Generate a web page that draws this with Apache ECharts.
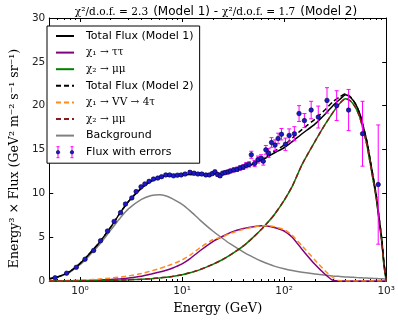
<!DOCTYPE html>
<html><head><meta charset="utf-8">
<script src="https://cdn.jsdelivr.net/npm/echarts@6/dist/echarts.min.js"></script>
<style>html,body{margin:0;padding:0;background:#fff}#c{width:398px;height:320px}</style>
</head><body><div id="c"></div>
<script>
// ---- data ----
const energy = [0.5,0.6,0.7,0.8,1,1.2,1.5,2,2.5,3,4,5,6,7,8,10,12,15,20,25,30,40,50,60,70,80,100,120,150,200,250,300,350,400,450,500,550,600,650,700,750,800,850,900,950,1000];
const totalModel1 = [0.25,0.45,0.75,1.1,2.0,2.95,4.2,6.15,7.85,9.1,10.6,11.4,11.8,12.0,12.05,12.1,12.15,12.15,12.2,12.3,12.45,12.9,13.35,13.8,14.2,14.6,15.2,15.9,16.8,17.9,19.0,20.0,20.7,21.25,20.9,20.2,19.1,17.5,15.8,13.65,11.65,9.7,7.3,5.0,2.05,0.2];
const chi1TauTau = [0.01,0.015,0.02,0.03,0.05,0.07,0.11,0.18,0.26,0.35,0.55,0.8,1.02,1.22,1.45,1.95,2.55,3.45,4.5,5.1,5.55,6.0,6.2,6.3,6.25,6.1,5.7,5.0,3.6,1.9,0.8,0.08,0,0,0,0,0,0,0,0,0,0,0,0,0,0];
const chi2MuMu = [0,0.003,0.005,0.008,0.015,0.025,0.04,0.07,0.1,0.13,0.2,0.27,0.35,0.43,0.52,0.72,0.95,1.3,1.9,2.45,3.0,4.0,5.0,5.9,6.75,7.55,9.2,10.8,13.3,15.9,17.8,19.2,20.25,20.8,20.5,19.8,18.7,17.1,15.4,13.3,11.3,9.4,7.0,4.7,1.8,0];
const totalModel2 = [0.25,0.45,0.75,1.1,2.0,2.95,4.2,6.15,7.85,9.1,10.6,11.4,11.8,12.0,12.05,12.1,12.15,12.2,12.25,12.35,12.5,12.95,13.45,13.9,14.35,14.8,15.5,16.3,17.3,18.45,19.5,20.45,21.0,21.35,20.95,20.2,19.1,17.5,15.8,13.65,11.65,9.7,7.3,5.0,2.05,0.2];
const chi1VV4Tau = [0.02,0.03,0.04,0.06,0.1,0.14,0.21,0.33,0.45,0.58,0.85,1.15,1.42,1.68,1.92,2.4,2.95,3.8,4.7,5.05,5.45,5.9,6.15,6.3,6.3,6.2,5.85,5.2,4.0,2.4,1.2,0.4,0.02,0,0,0,0,0,0,0,0,0,0,0,0,0];
const chi2MuMuModel2 = [0,0.003,0.005,0.008,0.015,0.025,0.04,0.07,0.1,0.13,0.2,0.27,0.35,0.43,0.52,0.72,0.95,1.3,1.9,2.45,3.0,4.0,5.0,5.9,6.75,7.55,9.2,10.8,13.3,15.9,17.8,19.2,20.25,20.8,20.5,19.8,18.7,17.1,15.4,13.3,11.3,9.4,7.0,4.7,1.8,0];
const background = [0.22,0.42,0.7,1.02,1.85,2.75,3.95,5.8,7.25,8.25,9.3,9.75,9.85,9.7,9.4,8.75,8.0,6.95,5.7,4.85,4.2,3.3,2.7,2.25,1.95,1.7,1.4,1.2,1.0,0.8,0.68,0.58,0.52,0.47,0.43,0.4,0.37,0.35,0.33,0.31,0.29,0.28,0.27,0.25,0.24,0.23];

const pointEnergy = [0.57,0.74,0.92,1.12,1.36,1.59,1.86,2.16,2.5,2.79,3.22,3.55,3.96,4.32,4.75,5.25,5.78,6.3,6.93,7.56,8.25,9.0,9.8,10.7,11.95,13.1,14.3,15.6,17.1,18.5,19.8,21.0,22.3,23.6,25.0,26.5,28.2,29.8,32.1,34.6,37.1,39.8,42.5,45.4,47.7,51.4,55.4,59.4,62.5,66.2,70.4,75.2,81.5,87.3,94.2,103,112,126,140,158,184,216,263,327,428,586,835];
const pointFlux = [0.37,0.89,1.56,2.48,3.48,4.6,5.7,6.8,7.8,8.78,9.48,10.2,10.74,11.07,11.37,11.63,11.74,11.9,12.1,12.1,12.0,12.07,12.1,12.2,12.4,12.3,12.2,12.2,12.1,12.1,12.25,12.45,12.15,12.0,12.3,12.37,12.44,12.55,12.67,12.74,12.9,13.0,13.2,13.3,14.4,13.4,13.85,14.0,13.67,14.96,14.6,15.8,15.5,16.26,16.74,15.6,16.6,16.8,19.1,18.3,19.5,18.7,20.6,20.0,19.5,16.8,11.0];
const pointError = [0.03,0.04,0.05,0.06,0.07,0.08,0.09,0.1,0.1,0.1,0.1,0.1,0.1,0.1,0.1,0.1,0.1,0.12,0.12,0.12,0.12,0.12,0.13,0.13,0.15,0.15,0.15,0.15,0.16,0.17,0.18,0.18,0.2,0.2,0.2,0.2,0.22,0.22,0.24,0.25,0.26,0.28,0.3,0.3,0.4,0.35,0.4,0.4,0.45,0.5,0.5,0.55,0.6,0.6,0.65,0.7,0.75,0.8,0.9,0.8,1.0,1.25,1.45,1.7,2.35,3.7,6.8];

const xMajorTicks = [1,10,100,1000];
const xTickLabels = ['10⁰','10¹','10²','10³'];
const xMinorTicks = [0.6,0.7,0.8,0.9,2,3,4,5,6,7,8,9,20,30,40,50,60,70,80,90,200,300,400,500,600,700,800,900];
const yMin = 0, yMax = 30, yStep = 5;

const legendNames = ['Total Flux (Model 1)','χ₁ → ττ','χ₂ → μμ','Total Flux (Model 2)','χ₁ → VV → 4τ','χ₂ → μμ ','Background','Flux with errors'];
const titleText = '{m|χ²/d.o.f. = 2.3} {s|(Model 1) - }{m|χ²/d.o.f. = 1.7} {s|(Model 2)}';
const xName = 'Energy (GeV)';
const yName = 'Energy³ × Flux (GeV² m⁻² s⁻¹ sr⁻¹)';

// ---- chart ----
const pairs = arr => energy.map((e,i)=>[e,arr[i]]);
const X0 = 0.5, X1 = 1000;
const chart = echarts.init(document.getElementById('c'), null, {renderer:'canvas'});

function lineSeries(name, arr, color, dashed, z){
  return {type:'line', name, data:pairs(arr), symbol:'none', smooth:0.2, z:z||2,
    lineStyle:{color, width:1.5, type: dashed ? [5,3] : 'solid'}, itemStyle:{color}, animation:false};
}
const svgIcon = '<svg xmlns="http://www.w3.org/2000/svg" width="18" height="14" viewBox="0 0 18 14">'+
 '<path d="M2 1.5v11M0.5 1.5h3M0.5 12.5h3M16 1.5v11M14.5 1.5h3M14.5 12.5h3" stroke="#ff00ff" stroke-width="1" fill="none"/>'+
 '<circle cx="2" cy="7" r="1.8" fill="#1a1acc" stroke="#000033" stroke-width="0.5"/>'+
 '<circle cx="16" cy="7" r="1.8" fill="#1a1acc" stroke="#000033" stroke-width="0.5"/></svg>';

const xCommon = {type:'log', logBase:10, min:X0, max:X1, splitLine:{show:false}, gridIndex:0};
const richLeg = {m:{fontFamily:'DejaVu Serif', fontSize:10.5, color:'#000', lineHeight:14}, s:{fontFamily:'DejaVu Sans', fontSize:11, color:'#000', lineHeight:14}};
const option = {
  animation:false,
  backgroundColor:'#fff',
  title:{text:titleText, left:216, top:3, textAlign:'center', padding:0,
    textStyle:{fontWeight:'normal', rich:{m:{fontFamily:'DejaVu Serif', fontSize:10.6, fontWeight:'normal', color:'#000'}, s:{fontFamily:'DejaVu Sans', fontSize:12, fontWeight:'normal', color:'#000'}}}},
  grid:{left:43, right:7, top:18, bottom:32, containLabel:false},
  legend:{orient:'vertical', left:47, top:26, selectedMode:false,
    backgroundColor:'#fff', borderColor:'#000', borderWidth:1, borderRadius:0,
    padding:[3,6,4,8], itemWidth:18, itemHeight:14, itemGap:2.6,
    data: legendNames.map((n,i)=> i===7 ? {name:n, icon:'image://data:image/svg+xml;charset=utf-8,'+encodeURIComponent(svgIcon)} : {name:n, itemStyle:{opacity:0}}),
    formatter: n => n.startsWith('χ') ? '{m|'+n.trim()+'}' : '{s|'+n+'}',
    textStyle:{padding:[0,0,0,7], lineHeight:14, rich:richLeg}},
  xAxis:[
    Object.assign({}, xCommon, {position:'bottom', name:xName, nameLocation:'middle', nameGap:21,
      nameTextStyle:{fontFamily:'DejaVu Serif', fontSize:13, color:'#000'},
      axisLine:{show:true, lineStyle:{color:'#000', width:1}},
      axisTick:{show:true, inside:true, length:4, customValues:xMajorTicks, lineStyle:{color:'#000'}},
      axisLabel:{show:true, customValues:xMajorTicks, margin:5, fontFamily:'DejaVu Sans', fontSize:10.5, color:'#222',
        formatter: v => xTickLabels[xMajorTicks.indexOf(Math.pow(10, Math.round(Math.log10(v))))]}}),
    Object.assign({}, xCommon, {position:'bottom', axisLine:{show:false},
      axisTick:{show:true, inside:true, length:2, customValues:xMinorTicks, lineStyle:{color:'#000'}}, axisLabel:{show:false}}),
    Object.assign({}, xCommon, {position:'top', axisLine:{show:true, lineStyle:{color:'#000', width:1}},
      axisTick:{show:true, inside:true, length:4, customValues:xMajorTicks, lineStyle:{color:'#000'}}, axisLabel:{show:false}}),
    Object.assign({}, xCommon, {position:'top', axisLine:{show:false},
      axisTick:{show:true, inside:true, length:2, customValues:xMinorTicks, lineStyle:{color:'#000'}}, axisLabel:{show:false}})
  ],
  yAxis:[
    {type:'value', min:yMin, max:yMax, interval:yStep, position:'left', splitLine:{show:false},
      name:yName, nameLocation:'middle', nameGap:27,
      nameTextStyle:{fontFamily:'DejaVu Serif', fontSize:12.5, color:'#000', padding:[0,18,0,0]},
      axisLine:{show:true, lineStyle:{color:'#000', width:1}},
      axisTick:{show:true, inside:true, length:4, lineStyle:{color:'#000'}},
      axisLabel:{margin:4, fontFamily:'DejaVu Sans', fontSize:10.5, color:'#222'}},
    {type:'value', min:yMin, max:yMax, interval:yStep, position:'right', splitLine:{show:false},
      axisLine:{show:true, lineStyle:{color:'#000', width:1}},
      axisTick:{show:true, inside:true, length:4, lineStyle:{color:'#000'}},
      axisLabel:{show:false}}
  ],
  series:[
    lineSeries(legendNames[0], totalModel1, '#000000', false, 2),
    lineSeries(legendNames[1], chi1TauTau, '#800080', false, 2),
    lineSeries(legendNames[2], chi2MuMu, '#008000', false, 2),
    lineSeries(legendNames[3], totalModel2, '#000000', true, 2),
    lineSeries(legendNames[4], chi1VV4Tau, '#ff8c1a', true, 2),
    lineSeries(legendNames[5], chi2MuMuModel2, '#8b1a1a', true, 2),
    lineSeries(legendNames[6], background, '#808080', false, 1),
    {type:'custom', name:legendNames[7], z:3, silent:true, animation:false,
      data: pointEnergy.map((e,i)=>[e, pointFlux[i]-pointError[i], pointFlux[i]+pointError[i]]),
      encode:{x:0, y:[1,2]},
      itemStyle:{color:'#ff00ff'},
      renderItem:(params, api)=>{
        const lo = api.coord([api.value(0), api.value(1)]);
        const hi = api.coord([api.value(0), api.value(2)]);
        const w = 2, st = {stroke:'#ff00ff', lineWidth:1};
        return {type:'group', children:[
          {type:'line', shape:{x1:lo[0], y1:lo[1], x2:hi[0], y2:hi[1]}, style:st},
          {type:'line', shape:{x1:lo[0]-w, y1:lo[1], x2:lo[0]+w, y2:lo[1]}, style:st},
          {type:'line', shape:{x1:hi[0]-w, y1:hi[1], x2:hi[0]+w, y2:hi[1]}, style:st}
        ]};
      }},
    {type:'scatter', name:legendNames[7], z:4, animation:false,
      data: pointEnergy.map((e,i)=>[e, pointFlux[i]]),
      symbol:'circle', symbolSize:4.5,
      itemStyle:{color:'#1a1acc', borderColor:'#000033', borderWidth:0.6, opacity:1}}
  ]
};
chart.setOption(option);
</script>
</body></html>
